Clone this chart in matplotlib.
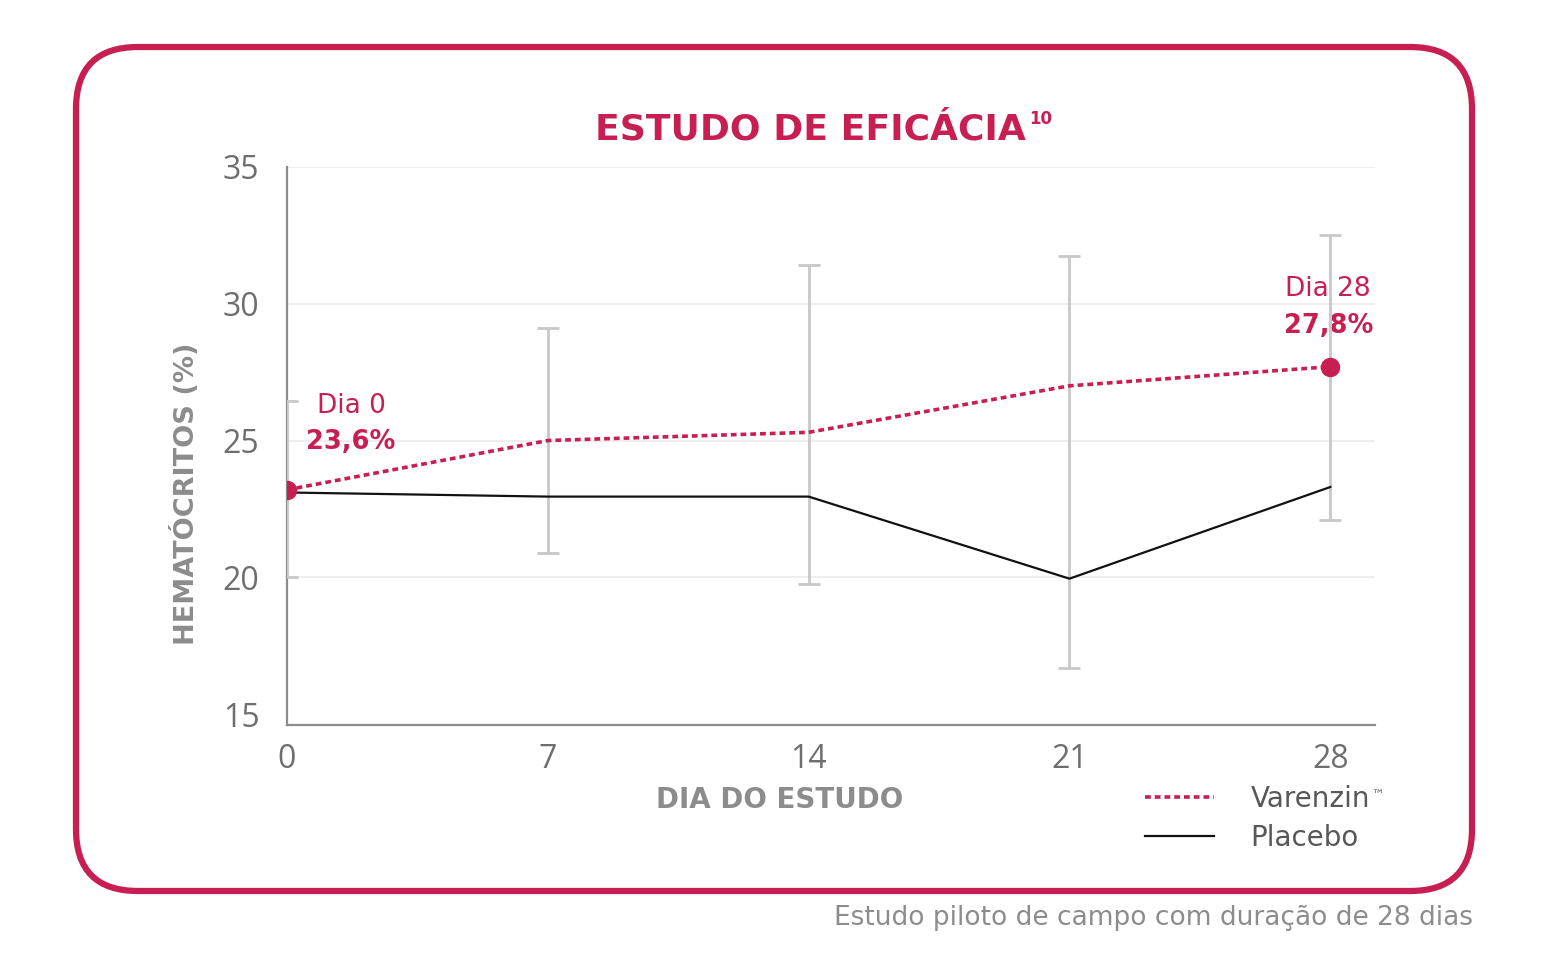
import matplotlib.pyplot as plt
import numpy as np
from matplotlib.patches import FancyBboxPatch

plt.rcParams['font.family'] = ['DejaVu Sans']
tick_font = 'Open Sans'

# data
days = [0, 7, 14, 21, 28]
varenzin = [23.2, 25.0, 25.3, 27.0, 27.7]
placebo = [23.1, 22.95, 22.95, 19.95, 23.3]
err_low = [20.0, 20.9, 19.75, 16.7, 22.1]
err_high = [26.45, 29.1, 31.4, 31.75, 32.5]
y_ticks = [15, 20, 25, 30, 35]
grid_lines = [20, 25, 30, 35]

crimson = '#c81f52'
grey_txt = '#6d6e71'
grey_lbl = '#8c8c8c'

W, H = 1548, 977
fig = plt.figure(figsize=(W / 100, H / 100), dpi=100)

# background axes in pixel coordinates (frame + free text)
bg = fig.add_axes([0, 0, 1, 1])
bg.set_xlim(0, W)
bg.set_ylim(H, 0)
bg.axis('off')
box = FancyBboxPatch((76, 47), 1396, 844, boxstyle='round,pad=0,rounding_size=62',
                     fill=False, ec=crimson, lw=4.5)
bg.add_patch(box)

bg.text(1026, 129, 'ESTUDO DE EFICÁCIA', ha='right', va='center', fontsize=26,
        fontweight='bold', color=crimson)
bg.text(1029, 119, '10', ha='left', va='center', fontsize=12, fontweight='bold', color=crimson)
bg.text(1473, 918, 'Estudo piloto de campo com duração de 28 dias', ha='right', va='center',
        fontsize=19, color=grey_lbl)

# chart axes
ax = fig.add_axes([287 / W, 1 - 725 / H, (1375 - 287) / W, (725 - 167) / H])
ax.set_zorder(2)
ax.patch.set_alpha(0)
ax.set_xlim(0, 29.2)
ax.set_ylim(14.6, 35)

for g in grid_lines:
    ax.axhline(g, color='#ebebeb', lw=1.2, zorder=0)

ax.errorbar(days, (np.array(err_low) + np.array(err_high)) / 2,
            yerr=(np.array(err_high) - np.array(err_low)) / 2, fmt='none',
            ecolor='#c8c8c8', elinewidth=2, capsize=8, capthick=2, zorder=4)

l_plc, = ax.plot(days, placebo, color='#111111', lw=1.6, zorder=5)
l_var, = ax.plot(days, varenzin, color=crimson, lw=2.6, dashes=(1.6, 1.1), zorder=6)
ax.plot([days[0], days[-1]], [varenzin[0], varenzin[-1]], 'o', color=crimson, ms=13, zorder=7)

for s in ['top', 'right']:
    ax.spines[s].set_visible(False)
for s in ['left', 'bottom']:
    ax.spines[s].set_color('#8c8c8c')
    ax.spines[s].set_linewidth(1.6)
    ax.spines[s].set_zorder(1)

ax.set_yticks(y_ticks)
ax.set_xticks(days)
ax.tick_params(length=0, labelsize=23, labelcolor=grey_txt)
ax.tick_params(axis='y', pad=20)
ax.tick_params(axis='x', pad=13)
for lab in ax.get_xticklabels() + ax.get_yticklabels():
    lab.set_fontfamily(tick_font)
ax.set_xlabel('DIA DO ESTUDO', fontsize=20, fontweight='bold', color=grey_lbl)
ax.xaxis.set_label_coords((780 - 287) / 1088, -0.11)
ax.set_ylabel('HEMATÓCRITOS (%)', fontsize=19.5, fontweight='bold', color=grey_lbl)
ax.yaxis.set_label_coords(-0.08, 0.414)

# annotations
ax.annotate('Dia 0', (days[0], varenzin[0]), xytext=(64, 84), textcoords='offset pixels',
            ha='center', va='center', fontsize=19, color=crimson)
ax.annotate('23,6%', (days[0], varenzin[0]), xytext=(64, 48), textcoords='offset pixels',
            ha='center', va='center', fontsize=18.5, fontweight='bold', color=crimson)
ax.annotate('Dia 28', (days[-1], varenzin[-1]), xytext=(-2, 78), textcoords='offset pixels',
            ha='center', va='center', fontsize=19, color=crimson)
ax.annotate('27,8%', (days[-1], varenzin[-1]), xytext=(-2, 41), textcoords='offset pixels',
            ha='center', va='center', fontsize=18.5, fontweight='bold', color=crimson)

leg = fig.legend([l_var, l_plc], ['Varenzin', 'Placebo'], loc='upper left',
                 bbox_to_anchor=(1145 / W, 1 - 785 / H), frameon=False, fontsize=20,
                 handlelength=2.5, handletextpad=1.3, labelspacing=0.4, borderpad=0,
                 borderaxespad=0)
for t in leg.get_texts():
    t.set_color('#58585a')

# small trademark sign after the legend label
fig.canvas.draw()
bb = leg.get_texts()[0].get_window_extent()
fig.text(bb.x1 / W + 0.001, bb.y1 / H - 0.004, '™', fontsize=9, color='#58585a',
         ha='left', va='top')

fig.savefig('out.png', dpi=100)
